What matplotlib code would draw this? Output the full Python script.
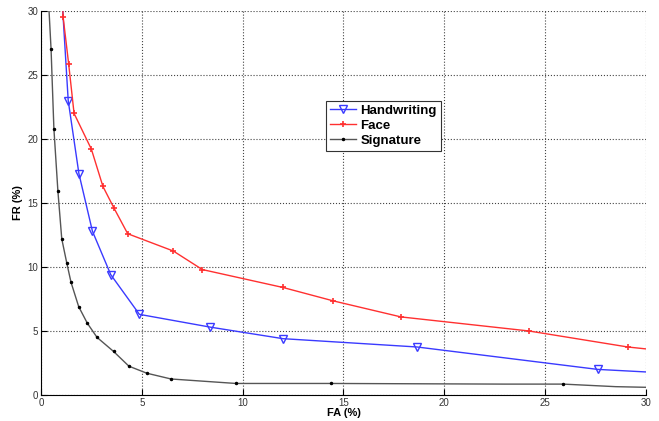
import matplotlib.pyplot as plt

plt.rcParams['font.family'] = ['Liberation Sans', 'DejaVu Sans']

# FA (%) / FR (%) values
hand_fa = [1.08, 1.35, 1.88, 2.55, 3.46, 4.88, 8.4, 12.0, 18.65, 27.6, 30.0]
hand_fr = [30.0, 23.0, 17.3, 12.8, 9.4, 6.3, 5.3, 4.4, 3.75, 2.0, 1.8]

face_fa = [1.08, 1.1, 1.37, 1.64, 2.5, 3.07, 3.62, 4.3, 6.56, 8.0, 12.0, 14.5, 17.85, 24.2, 29.1, 30.0]
face_fr = [30.2, 29.5, 25.9, 22.0, 19.2, 16.3, 14.6, 12.6, 11.25, 9.8, 8.4, 7.35, 6.1, 5.0, 3.75, 3.6]

sig_fa = [0.4, 0.5, 0.64, 0.84, 1.03, 1.28, 1.49, 1.87, 2.3, 2.78, 3.6, 4.36, 5.25, 6.45, 9.67, 14.4, 23.0, 25.9, 28.5, 30.0]
sig_fr = [30.0, 27.0, 20.8, 15.9, 12.2, 10.3, 8.8, 6.9, 5.6, 4.5, 3.4, 2.25, 1.7, 1.25, 0.9, 0.9, 0.85, 0.85, 0.65, 0.6]

fig = plt.figure(figsize=(6.59, 4.21), dpi=100)
ax = fig.add_axes([0.0622, 0.0618, 0.918, 0.912])

ax.plot(hand_fa, hand_fr, '-v', color='#3a3aff', lw=1.0, ms=6, mfc='none', mec='#3a3aff',
        markevery=list(range(1, len(hand_fa) - 1)), label='Handwriting')
ax.plot(face_fa, face_fr, '-+', color='#ff3030', lw=1.0, ms=5, mew=1.2,
        markevery=list(range(1, len(face_fa) - 1)), label='Face')
ax.plot(sig_fa, sig_fr, '-', color='#555555', lw=1.0, label='Signature')
sig_marks = [i for i in range(1, len(sig_fa) - 1) if sig_fa[i] not in (23.0, 28.5)]
ax.plot([sig_fa[i] for i in sig_marks], [sig_fr[i] for i in sig_marks], 'k.', ms=3)

ax.set_xlim(0, 30)
ax.set_ylim(0, 30)
ax.set_xticks(range(0, 31, 5))
ax.set_yticks(range(0, 31, 5))
ax.grid(True, ls=':', color='#444444', lw=0.8)
for s in ('top', 'right'):
    ax.spines[s].set_visible(False)
ax.tick_params(direction='in', labelsize=7, labelcolor='#333333', length=4, pad=2)
ax.set_xlabel('FA (%)', fontsize=8, fontweight='bold', labelpad=0)
ax.set_ylabel('FR (%)', fontsize=8, fontweight='bold', labelpad=3)

handles, labels = ax.get_legend_handles_labels()
leg = ax.legend(handles[:3], labels[:3], loc='upper left', bbox_to_anchor=(0.471, 0.766),
                prop={'weight': 'bold', 'size': 9.5}, fancybox=False, framealpha=1,
                edgecolor='#333333', handlelength=2.0, handletextpad=0.3, borderpad=0.3,
                labelspacing=0.2, borderaxespad=0)
leg.get_frame().set_linewidth(0.8)
# signature legend handle with a dot marker
leg.legend_handles[2].set_marker('.')
leg.legend_handles[2].set_markerfacecolor('k')
leg.legend_handles[2].set_markeredgecolor('k')
leg.legend_handles[2].set_markersize(3)

fig.savefig('out.png', dpi=100)
